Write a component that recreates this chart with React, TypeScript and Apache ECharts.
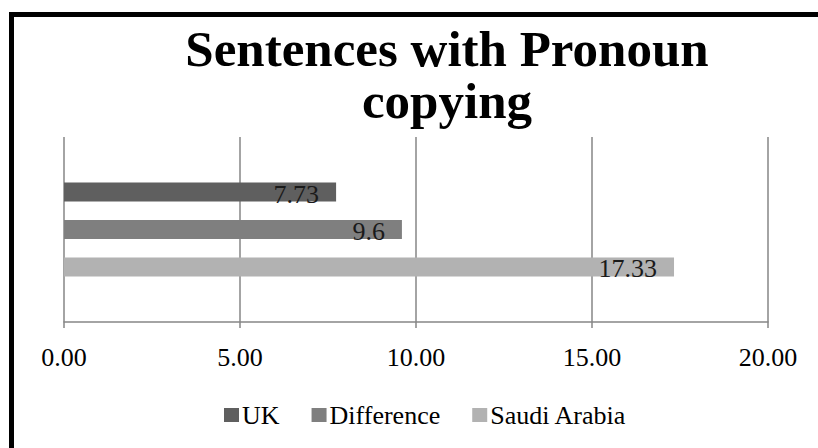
import React, { useEffect, useRef } from "react";
import * as echarts from "echarts";

const titleText = "Sentences with Pronoun\ncopying";
const categories = [""];
const seriesNames = ["UK", "Difference", "Saudi Arabia"];
const seriesValues = [[7.73], [9.6], [17.33]];
const seriesColors = ["#5f5f5f", "#7f7f7f", "#b2b2b2"];
const xTicks = { min: 0, max: 20, interval: 5 };

const FONT = "'Liberation Serif', 'Times New Roman', serif";

export default function App() {
  const ref = useRef<HTMLDivElement>(null);
  useEffect(() => {
    if (!ref.current) return;
    const chart = echarts.init(ref.current, null, { renderer: "svg" });
    chart.setOption({
      animation: false,
      backgroundColor: "#ffffff",
      textStyle: { fontFamily: FONT },
      title: {
        text: titleText,
        left: 442,
        top: 18,
        textAlign: "center",
        textStyle: {
          fontFamily: FONT,
          fontWeight: "bold",
          fontSize: 51,
          lineHeight: 52,
          color: "#000000",
        },
      },
      legend: {
        data: seriesNames,
        left: 219,
        top: 397,
        icon: "rect",
        itemWidth: 15,
        itemHeight: 14,
        itemGap: 32,
        textStyle: { fontFamily: FONT, fontSize: 26, color: "#000000", padding: [0, 0, 0, -2] },
      },
      grid: { left: 64, right: 50, top: 137, bottom: 126, containLabel: false },
      xAxis: {
        type: "value",
        min: xTicks.min,
        max: xTicks.max,
        interval: xTicks.interval,
        axisLine: { show: true, lineStyle: { color: "#868686", width: 1.5 } },
        axisTick: { show: true, length: 6, lineStyle: { color: "#868686", width: 1.5 } },
        splitLine: { show: true, lineStyle: { color: "#868686", width: 1.5 } },
        axisLabel: {
          fontFamily: FONT,
          fontSize: 26,
          color: "#000000",
          margin: 22,
          formatter: (v: number) => v.toFixed(2),
        },
      },
      yAxis: {
        type: "category",
        data: categories,
        inverse: true,
        axisLine: { show: false },
        axisTick: { show: false },
        axisLabel: { show: false },
      },
      series: seriesNames.map((name, i) => ({
        name,
        type: "bar",
        data: seriesValues[i],
        barWidth: 19,
        barGap: "97%",
        itemStyle: { color: seriesColors[i] },
        label: {
          show: true,
          position: "insideRight",
          distance: 17,
          fontFamily: FONT,
          fontSize: 26,
          color: "#1a1a1a",
          offset: [0, 2],
        },
      })),
    });
    return () => chart.dispose();
  }, []);
  return (
    <div
      style={{
        position: "fixed",
        left: 0,
        top: 0,
        width: 818,
        height: 448,
        overflow: "hidden",
        background: "#ffffff",
      }}
    >
      <div ref={ref} style={{ position: "absolute", left: 0, top: 0, width: 818, height: 448 }} />
      <div
        style={{ position: "absolute", left: 9, top: 12, width: 5, height: 436, background: "#000" }}
      />
      <div
        style={{ position: "absolute", left: 9, top: 12, width: 809, height: 5, background: "#000" }}
      />
    </div>
  );
}
